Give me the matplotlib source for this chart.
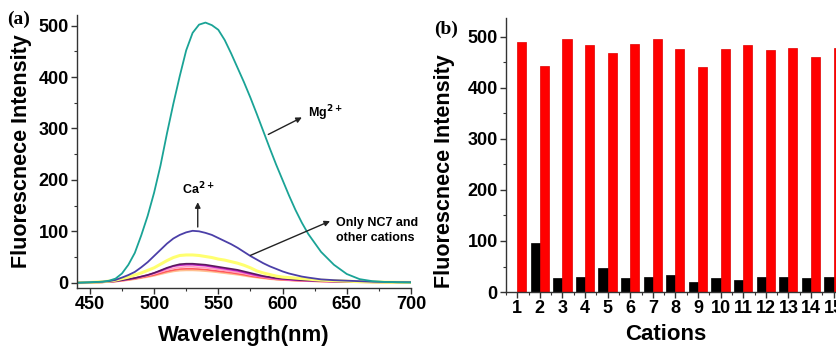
#!/usr/bin/env python3
"""Fluorescence spectra with cations (a) and bar comparison of cations (b)."""

import matplotlib
matplotlib.use("Agg")
import matplotlib.pyplot as plt
from matplotlib.ticker import MultipleLocator

plt.rcParams["font.family"] = ["Liberation Sans", "DejaVu Sans"]
plt.rcParams["font.weight"] = "bold"

# ---- panel (a): emission spectra ----
wavelength = [440, 450, 460, 465, 470, 475, 480, 485, 490, 495, 500, 505, 510, 515,
              520, 525, 530, 535, 540, 545, 550, 555, 560, 565, 570, 575, 580, 585,
              590, 595, 600, 605, 610, 615, 620, 630, 640, 650, 660, 670, 680, 690, 700]

mg = [0, 1, 2, 4, 8, 18, 35, 58, 92, 130, 175, 228, 290, 348, 402, 452, 486, 502,
      506, 501, 492, 472, 446, 418, 390, 360, 328, 295, 262, 230, 200, 170, 142, 117,
      95, 60, 35, 17, 7, 3, 1.5, 1, 0.5]
ca = [0, 0.5, 2, 3, 5.5, 10, 15, 21, 30, 40, 52, 64, 76, 86, 93, 98, 101, 100, 97,
      93, 87, 81, 75, 68, 60, 52, 45, 38, 32, 27, 22, 18, 15, 12, 10, 6.5, 5, 4, 3, 2,
      1.5, 1, 1]
yellow = [0, 0.5, 2, 3, 5, 8, 11, 15, 19, 24, 29, 36, 43, 49, 53, 54, 54, 53, 51, 49,
          46, 44, 41, 38, 34, 29, 23, 19, 16, 13, 11, 10, 9, 8, 7, 5, 4, 3, 2, 1.5, 1,
          0.8, 0.6]
dark = [0, 0.3, 1, 2, 3, 5, 7, 9, 12, 15, 19, 24, 29, 33, 36, 37, 37, 36, 35, 33, 31,
        29, 27, 25, 22, 19, 16, 13, 11, 9, 8, 7, 6, 5, 4.5, 3.5, 2.5, 2, 1.5, 1, 0.8,
        0.6, 0.5]
magenta = [0, 0.3, 1, 2, 3, 5, 7, 9, 12, 15, 19, 23, 28, 32, 34, 35, 35, 34, 33, 31,
           29, 27, 25, 23, 20, 17, 14, 12, 10, 8, 7, 6, 5, 4.5, 4, 3, 2.2, 1.8, 1.3, 1,
           0.8, 0.6, 0.5]
pink = [0, 0.3, 1, 1.8, 2.8, 4.5, 6.5, 8.5, 11, 14, 17, 21, 25, 28, 30, 31, 31, 30, 29,
        27.5, 26, 24, 22, 20, 18, 15, 13, 11, 9, 7.5, 6.5, 5.5, 4.8, 4.2, 3.7, 2.8, 2.1,
        1.6, 1.2, 0.9, 0.7, 0.5, 0.4]
red = [0, 0.3, 0.9, 1.6, 2.5, 4, 5.8, 7.6, 10, 12.5, 15, 18.5, 22, 24.5, 26.5, 27, 27,
       26.5, 25.5, 24, 22.5, 21, 19.5, 17.5, 15.5, 13, 11, 9.5, 8, 6.5, 5.7, 5, 4.3, 3.8,
       3.3, 2.5, 1.9, 1.4, 1.1, 0.8, 0.6, 0.5, 0.4]
peach = [0, 0.3, 0.8, 1.4, 2.2, 3.5, 5, 6.8, 9, 11, 13.5, 16.5, 19.5, 22, 23.5, 24, 24,
         23.5, 22.5, 21.5, 20, 18.5, 17, 15.5, 13.5, 11.5, 10, 8.5, 7, 6, 5.2, 4.5, 3.9,
         3.4, 3, 2.3, 1.7, 1.3, 1, 0.7, 0.5, 0.4, 0.3]

# ---- panel (b): intensity per cation ----
cations = list(range(1, 16))
before = [0, 97, 27, 29, 48, 27, 29, 34, 20, 27, 24, 29, 29, 27, 29]
after = [490, 443, 496, 484, 469, 486, 495, 476, 441, 476, 485, 475, 478, 460, 478]


def style_axes(ax):
    for side in ("top", "right"):
        ax.spines[side].set_visible(False)
    for side in ("left", "bottom"):
        ax.spines[side].set_linewidth(1.0)
        ax.spines[side].set_color("#333333")
    ax.tick_params(which="major", direction="out", length=4, width=1,
                   labelsize=13, color="#333333", pad=2)
    ax.tick_params(which="minor", direction="out", length=2.5, width=0.8,
                   color="#333333")


fig = plt.figure(figsize=(8.37, 3.46), dpi=100)

# panel (a)
ax1 = fig.add_axes([0.092, 0.168, 0.399, 0.789])
series = [
    (peach, "#ffbf8f", 1.2),
    (red, "#ff5a5a", 1.2),
    (pink, "#ff9ec4", 1.2),
    (magenta, "#c81ec8", 1.2),
    (dark, "#5b1a5e", 1.2),
    (yellow, "#ffff70", 2.2),
    (ca, "#4b3fa8", 1.3),
    (mg, "#1aa396", 1.3),
]
for vals, color, lw in series:
    ax1.plot(wavelength, vals, color=color, lw=lw)

ax1.set_xlim(440, 700)
ax1.set_ylim(-10, 521)
ax1.xaxis.set_major_locator(MultipleLocator(50))
ax1.xaxis.set_minor_locator(MultipleLocator(25))
ax1.yaxis.set_major_locator(MultipleLocator(100))
ax1.yaxis.set_minor_locator(MultipleLocator(50))
style_axes(ax1)
ax1.set_xlabel("Wavelength(nm)", fontsize=16, fontweight="bold")
ax1.xaxis.set_label_coords(0.5, -0.135)
ax1.set_ylabel("Fluorescnece Intensity", fontsize=15.5, fontweight="bold")
ax1.yaxis.set_label_coords(-0.135, 0.5)

ann = dict(fontsize=9, fontweight="bold")
arrow = dict(arrowstyle="-|>", color="#222222", lw=1, mutation_scale=8)
ax1.annotate("", xy=(617, 324), xytext=(587, 286), arrowprops=arrow)
ax1.text(620, 330, "Mg$^{\\mathbf{2+}}$", ha="left", va="center", **ann)
ax1.annotate("", xy=(534, 162), xytext=(534, 103), arrowprops=arrow)
ax1.text(534, 182, "Ca$^{\\mathbf{2+}}$", ha="center", va="center", **ann)
ax1.annotate("", xy=(639, 122), xytext=(573, 51), arrowprops=arrow)
ax1.text(642, 102, "Only NC7 and\nother cations", ha="left", va="center",
         linespacing=1.3, **ann)

fig.text(0.008, 0.945, "(a)", family=["Liberation Serif", "DejaVu Serif"],
         fontsize=14, fontweight="bold", va="center")

# panel (b)
ax2 = fig.add_axes([0.6045, 0.156, 0.405, 0.792])
ax2.bar([c - 0.41 for c in cations], before, width=0.41, align="edge",
        color="black", edgecolor="black", lw=0.5)
ax2.bar(cations, after, width=0.4, align="edge", color="#ff0000",
        edgecolor="#e00000", lw=0.5)
ax2.set_xlim(0.5, 15.5)
ax2.set_ylim(0, 537)
ax2.set_xticks(cations)
ax2.xaxis.set_minor_locator(MultipleLocator(0.5))
ax2.yaxis.set_major_locator(MultipleLocator(100))
ax2.yaxis.set_minor_locator(MultipleLocator(50))
style_axes(ax2)
ax2.set_xlabel("Cations", fontsize=16, fontweight="bold")
ax2.xaxis.set_label_coords(0.47, -0.115)
ax2.set_ylabel("Fluorescnece Intensity", fontsize=15.5, fontweight="bold")
ax2.yaxis.set_label_coords(-0.15, 0.44)

fig.text(0.519, 0.915, "(b)", family=["Liberation Serif", "DejaVu Serif"],
         fontsize=14, fontweight="bold", va="center")

fig.savefig("out.png", dpi=100)
